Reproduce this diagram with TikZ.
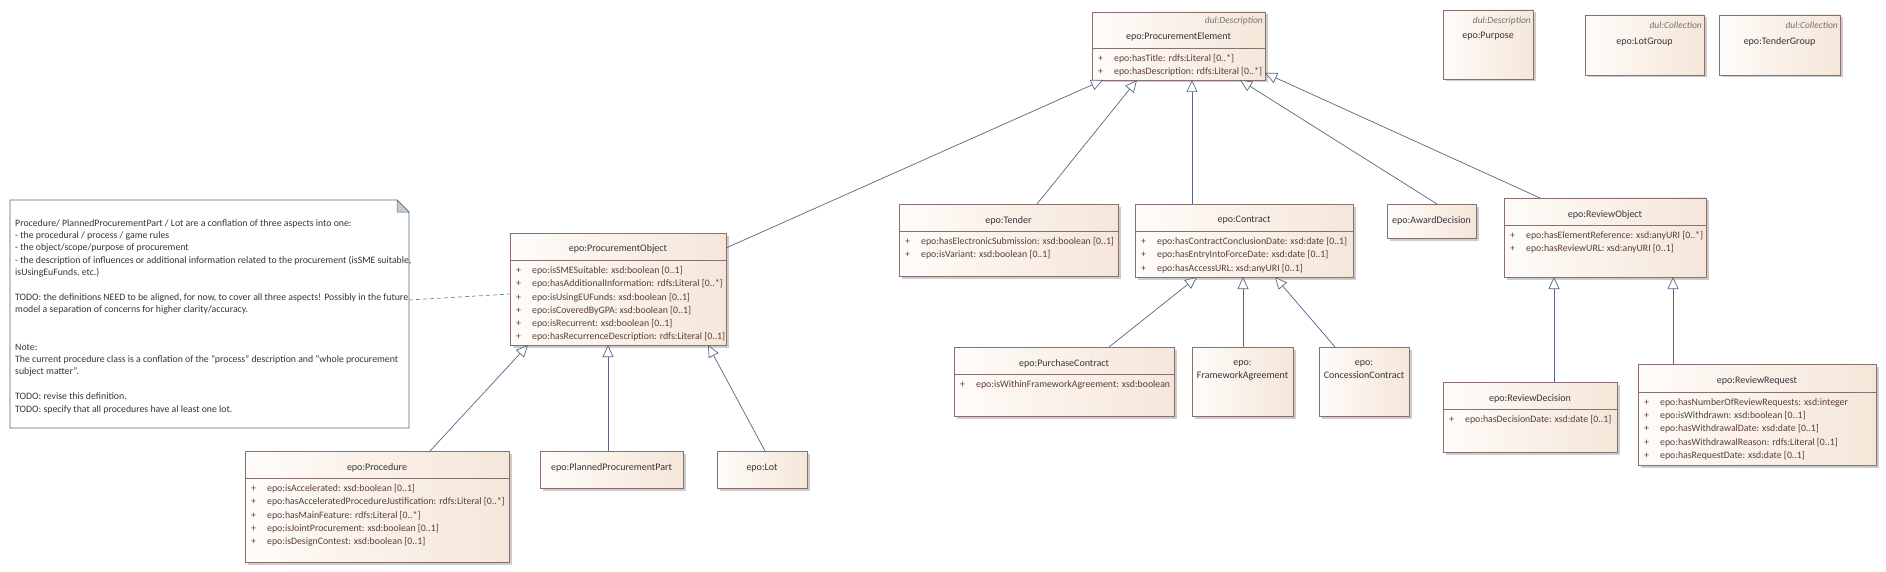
\documentclass[tikz,border=0pt]{standalone}
\usepackage{fontspec}
\setmainfont{Carlito}
\usetikzlibrary{arrows.meta,shadows,calc}
\definecolor{classleft}{RGB}{255,252,249}
\definecolor{classright}{RGB}{245,230,217}
\definecolor{classedge}{RGB}{135,112,112}
\definecolor{classtext}{RGB}{55,52,58}
\definecolor{attrtext}{RGB}{88,62,55}
\definecolor{genline}{RGB}{92,100,132}
\definecolor{noteedge}{RGB}{75,108,128}
\definecolor{notefold}{RGB}{198,204,210}
\definecolor{notelinkcol}{RGB}{100,140,160}
\colorlet{stereotext}{black!55}
\newcommand\attr[1]{\makebox[16pt][l]{+}#1}

\begin{document}
\begin{tikzpicture}[x=1pt, y=-1pt,
		classbox/.style={draw=classedge, line width=0.7pt, left color=classleft, right color=classright, anchor=north west, inner sep=0pt, outer sep=0pt, drop shadow={shadow xshift=2.5pt, shadow yshift=-2.5pt, fill=black!20, opacity=1}},
		classtitle/.style={inner sep=0pt, align=center, text=classtext, font=\fontsize{10}{13}\selectfont},
		classbar/.style={draw=classedge, line width=0.7pt},
		attrs/.style={anchor=north west, align=left, inner sep=0pt, text=attrtext, font=\fontsize{9.8}{13.2}\selectfont},
		stereo/.style={anchor=east, inner sep=0pt, text=stereotext, font=\fontsize{9.5}{11}\selectfont\itshape},
		gen/.style={draw=genline, line width=0.7pt, -{Triangle[length=12pt, width=11pt, fill=white]}},
		notebox/.style={anchor=north west, inner sep=0pt, outer sep=0pt},
		notetext/.style={anchor=north west, align=left, inner sep=0pt, text=classtext, font=\fontsize{9.8}{12.4}\selectfont},
		notelink/.style={draw=notelinkcol, line width=0.7pt, dash pattern=on 4pt off 3pt}]
		\path[use as bounding box, fill=white] (0,0) rectangle (1886,572);

		% #1 name, #2 left, #3 top, #4 width, #5 height, #6 title drop, #7 header, #8 title, #9 attributes
		\newcommand\umlclass[9]{%
		    \node[classbox, minimum width=#4pt, minimum height=#5pt] (#1) at (#2,#3) {};
		    \node[classtitle] (#1-title) at ([yshift=-#6pt]#1.north) {#8};
		    \draw[classbar] ([yshift=-#7pt]#1.north west) -- ([yshift=-#7pt]#1.north east);
		    \node[attrs] (#1-attrs) at ([xshift=6pt, yshift=-#7pt-6.5pt]#1.north west) {#9};
		}
		\newcommand\umlplain[7]{%
		    \node[classbox, minimum width=#4pt, minimum height=#5pt] (#1) at (#2,#3) {};
		    \node[classtitle] (#1-title) at ([yshift=-#6pt]#1.north) {#7};
		}

		% top row
		\umlclass{procElem}{1092}{12}{173}{68}{25}{36}{epo:ProcurementElement}{%
			\attr{epo:hasTitle: rdfs:Literal [0..*]}\\
			\attr{epo:hasDescription: rdfs:Literal [0..*]}};
		\node[stereo] (procElem-stereo) at ([xshift=-2pt, yshift=-9pt]procElem.north east) {dul:Description};

		\umlplain{purpose}{1443}{10}{90}{69}{26}{epo:Purpose};
		\node[stereo] (purpose-stereo) at ([xshift=-2pt, yshift=-11pt]purpose.north east) {dul:Description};
		\umlplain{lotGroup}{1585}{15}{119}{60}{27}{epo:LotGroup};
		\node[stereo] (lotGroup-stereo) at ([xshift=-2pt, yshift=-10pt]lotGroup.north east) {dul:Collection};
		\umlplain{tenderGroup}{1719}{15}{121}{60}{27}{epo:TenderGroup};
		\node[stereo] (tenderGroup-stereo) at ([xshift=-2pt, yshift=-10pt]tenderGroup.north east) {dul:Collection};

		% middle row
		\umlclass{procObj}{510}{233}{216}{112}{15.5}{27}{epo:ProcurementObject}{%
			\attr{epo:isSMESuitable: xsd:boolean [0..1]}\\
			\attr{epo:hasAdditionalInformation: rdfs:Literal [0..*]}\\
			\attr{epo:isUsingEUFunds: xsd:boolean [0..1]}\\
			\attr{epo:isCoveredByGPA: xsd:boolean [0..1]}\\
			\attr{epo:isRecurrent: xsd:boolean [0..1]}\\
			\attr{epo:hasRecurrenceDescription: rdfs:Literal [0..1]}};
		\umlclass{tender}{899}{204}{219}{72}{16.5}{27}{epo:Tender}{%
			\attr{epo:hasElectronicSubmission: xsd:boolean [0..1]}\\
			\attr{epo:isVariant: xsd:boolean [0..1]}};
		\umlclass{contract}{1135}{204}{218}{73}{16.5}{27}{epo:Contract}{%
			\attr{epo:hasContractConclusionDate: xsd:date [0..1]}\\
			\attr{epo:hasEntryIntoForceDate: xsd:date [0..1]}\\
			\attr{epo:hasAccessURL: xsd:anyURI [0..1]}};
		\umlplain{award}{1387}{204}{89}{34}{17}{epo:AwardDecision};
		\umlclass{reviewObj}{1504}{198}{202}{79}{16.5}{27}{epo:ReviewObject}{%
			\attr{epo:hasElementReference: xsd:anyURI [0..*]}\\
			\attr{epo:hasReviewURL: xsd:anyURI [0..1]}};

		% bottom row
		\umlclass{procedure}{245}{451}{264}{111}{16.5}{27}{epo:Procedure}{%
			\attr{epo:isAccelerated: xsd:boolean [0..1]}\\
			\attr{epo:hasAcceleratedProcedureJustification: rdfs:Literal [0..*]}\\
			\attr{epo:hasMainFeature: rdfs:Literal [0..*]}\\
			\attr{epo:isJointProcurement: xsd:boolean [0..1]}\\
			\attr{epo:isDesignContest: xsd:boolean [0..1]}};
		\umlplain{ppp}{540}{451}{143}{37}{17}{epo:PlannedProcurementPart};
		\umlplain{lot}{717}{451}{90}{37}{17}{epo:Lot};
		\umlclass{purchase}{954}{347}{220}{69}{16.5}{27}{epo:PurchaseContract}{%
			\attr{epo:isWithinFrameworkAgreement: xsd:boolean}};
		\umlplain{frame}{1192}{347}{101}{69}{23}{epo:\\FrameworkAgreement};
		\umlplain{concession}{1319}{347}{90}{69}{23}{epo:\\ConcessionContract};
		\umlclass{reviewDec}{1443}{382}{174}{70}{16.5}{27}{epo:ReviewDecision}{%
			\attr{epo:hasDecisionDate: xsd:date [0..1]}};
		\umlclass{reviewReq}{1638}{364}{238}{101}{16.5}{28}{epo:ReviewRequest}{%
			\attr{epo:hasNumberOfReviewRequests: xsd:integer}\\
			\attr{epo:isWithdrawn: xsd:boolean [0..1]}\\
			\attr{epo:hasWithdrawalDate: xsd:date [0..1]}\\
			\attr{epo:hasWithdrawalReason: rdfs:Literal [0..1]}\\
			\attr{epo:hasRequestDate: xsd:date [0..1]}};

		% note
		\node[notebox, minimum width=399pt, minimum height=228pt] (note) at (10,200) {};
		\draw[draw=noteedge, line width=0.7pt, fill=white] (note.north west) -- ([xshift=-12pt]note.north east) -- ([yshift=-12pt]note.north east) -- (note.south east) -- (note.south west) -- cycle;
		\filldraw[draw=noteedge, fill=notefold, line width=0.5pt] ([xshift=-12pt]note.north east) -- ([xshift=-12pt, yshift=-12pt]note.north east) -- ([yshift=-12pt]note.north east) -- cycle;
		\node[notetext] (note-text) at ([xshift=5pt, yshift=-19pt]note.north west) {%
			Procedure/ PlannedProcurementPart / Lot are a conflation of three aspects into one:\\
			- the procedural / process / game rules\\
			- the object/scope/purpose of procurement\\
			- the description of influences or additional information related to the procurement (isSME suitable,\\
			isUsingEuFunds, etc.)\\[12.4pt]
			TODO: the definitions NEED to be aligned, for now, to cover all three aspects! Possibly in the future\\
			model a separation of concerns for higher clarity/accuracy.\\[24.8pt]
			Note:\\
			The current procedure class is a conflation of the "process" description and "whole procurement\\
			subject matter".\\[12.4pt]
			TODO: revise this definition.\\
			TODO: specify that all procedures have al least one lot.};
		\draw[notelink] ([yshift=-100pt]note.north east) -- ([yshift=-61pt]procObj.north west);

		% generalisations
		\draw[gen] ([yshift=-15pt]procObj.north east) -- ([xshift=11pt]procElem.south west);
		\draw[gen] ([xshift=138pt]tender.north west) -- ([xshift=45pt]procElem.south west);
		\draw[gen] ([xshift=57pt]contract.north west) -- ([xshift=100pt]procElem.south west);
		\draw[gen] ([xshift=50pt]award.north west) -- ([xshift=148pt]procElem.south west);
		\draw[gen] ([xshift=36pt]reviewObj.north west) -- ([yshift=7pt]procElem.south east);

		\draw[gen] ([xshift=185pt]procedure.north west) -- ([xshift=18pt]procObj.south west);
		\draw[gen] ([xshift=68pt]ppp.north west) -- ([xshift=98pt]procObj.south west);
		\draw[gen] ([xshift=48pt]lot.north west) -- ([xshift=198pt]procObj.south west);

		\draw[gen] ([xshift=155pt]purchase.north west) -- ([xshift=62pt]contract.south west);
		\draw[gen] ([xshift=51pt]frame.north west) -- ([xshift=108pt]contract.south west);
		\draw[gen] ([xshift=16pt]concession.north west) -- ([xshift=140pt]contract.south west);

		\draw[gen] ([xshift=111pt]reviewDec.north west) -- ([xshift=50pt]reviewObj.south west);
		\draw[gen] ([xshift=35pt]reviewReq.north west) -- ([xshift=169pt]reviewObj.south west);
	\end{tikzpicture}
\end{document}
